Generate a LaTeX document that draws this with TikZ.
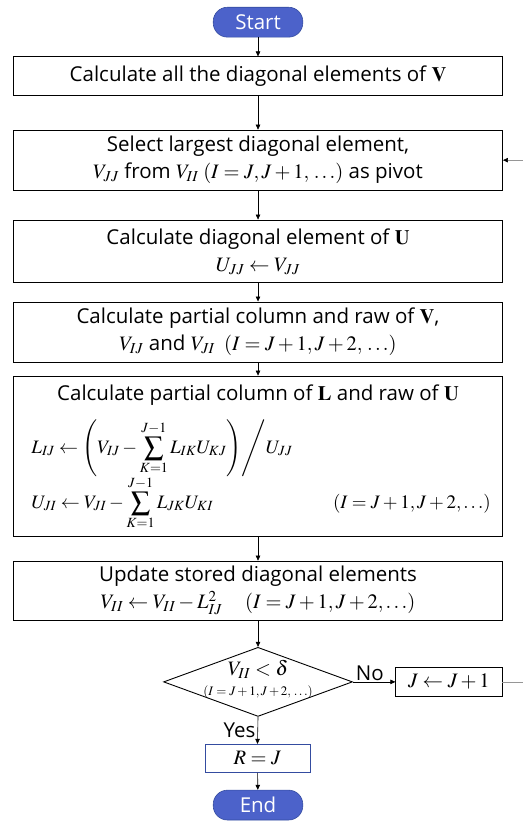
\documentclass[tikz,border=0pt]{standalone}
\usepackage{mathptmx}
\usepackage[no-math]{fontspec}
\setmainfont{Open Sans}
\definecolor{fcblue}{RGB}{76,98,202}
\definecolor{fcedge}{RGB}{52,76,160}
\definecolor{fcgray}{RGB}{150,150,150}
\usetikzlibrary{arrows.meta,positioning,shapes.geometric,calc}
\newcommand{\boxfont}{\fontsize{20.5}{27}\selectfont}
\newcommand{\eqfont}{\fontsize{19}{24}\selectfont}
\tikzset{
  terminal/.style={rectangle, rounded corners=0.5cm, fill=fcblue, draw=fcedge, line width=0.6pt,
    minimum width=3.15cm, minimum height=1.05cm, inner sep=0pt, text=white, font=\boxfont},
  procbox/.style={rectangle, draw=black, line width=0.9pt, minimum width=17.19cm,
    align=center, font=\boxfont},
  smallbox/.style={rectangle, draw=black, line width=0.9pt, minimum height=1.0cm, font=\boxfont},
  decision/.style={diamond, draw=black, line width=0.9pt, minimum width=6.64cm,
    minimum height=2.43cm, inner sep=0pt},
  flow/.style={-{Triangle[length=5pt,width=4.5pt]}, line width=0.6pt}
}
\begin{document}
\begin{tikzpicture}
  \useasboundingbox (0,0) rectangle (18.38,28.86);
  \clip (0,0) rectangle (18.38,28.86);

  % Start and the main column of steps
  \node[terminal] (start) at (9.07,28.08) {Start};
  \node[procbox, minimum height=1.34cm] (calcV) at (9.07,26.19)
    {Calculate all the diagonal elements of $\mathbf{V}$};
  \node[procbox, minimum height=2.11cm] (pivot) at (9.07,23.23)
    {Select largest diagonal element,\\ $V_{JJ}$ from $V_{II}\;(I=J, J+1,\,\ldots)$ as pivot};
  \node[procbox, minimum height=2.21cm] (diagU) at (9.07,20.02)
    {Calculate diagonal element of $\mathbf{U}$\\ $U_{JJ}\leftarrow V_{JJ}$};
  \node[procbox, minimum height=2.11cm] (partV) at (9.07,17.19)
    {Calculate partial column and raw of $\mathbf{V}$,\\ $V_{IJ}$ and $V_{JI}\;\;(I=J+1, J+2,\,\ldots)$};

  % L and U step
  \node[procbox, minimum height=5.62cm] (calcLU) at (9.07,12.83) {};
  \node[font=\boxfont, inner sep=0pt] (titleLU) at (9.07,14.97)
    {Calculate partial column of $\mathbf{L}$ and raw of $\mathbf{U}$};
  \node[anchor=west, font=\eqfont, inner sep=0pt] (eqL) at (1.1,13.1)
    {$\displaystyle L_{IJ}\leftarrow\left(V_{IJ}-\sum_{K=1}^{J-1}L_{IK}U_{KJ}\right)\!\Bigg/U_{JJ}$};
  \node[anchor=base west, font=\eqfont, inner sep=0pt] (eqU) at (1.1,11.0)
    {$\displaystyle U_{JI}\leftarrow V_{JI}-\sum_{K=1}^{J-1}L_{JK}U_{KI}$};
  \node[anchor=base west, font=\eqfont, inner sep=0pt] (eqRange) at (11.7,11.0)
    {$\left(I=J+1,J+2,\ldots\right)$};

  \node[procbox, minimum height=2.07cm] (update) at (9.07,8.10)
    {Update stored diagonal elements\\ $V_{II}\leftarrow V_{II}-L_{IJ}^2\quad\left(I=J+1,J+2,\ldots\right)$};

  % Decision
  \node[decision] (check) at (9.07,4.89) {};
  \node[align=center, font=\boxfont] (checktext) at (9.07,4.98)
    {$V_{II}<\delta$\\[-7pt]{\fontsize{13}{14}\selectfont$(I=J+1, J+2,\,\ldots)$}};
  \node[smallbox, minimum width=3.73cm] (stepJ) at (15.78,4.89) {$J\leftarrow J+1$};
  \node[smallbox, draw=fcedge, line width=0.6pt, minimum width=3.69cm] (result) at (9.05,2.20) {$R=J$};
  \node[terminal] (finish) at (9.07,0.56) {End};

  % Connectors
  \draw[flow] (start) -- (calcV);
  \draw[flow] (calcV) -- (pivot);
  \draw[flow] (pivot) -- (diagU);
  \draw[flow] (diagU) -- (partV);
  \draw[flow] (partV) -- (calcLU);
  \draw[flow] (calcLU) -- (update);
  \draw[flow] (update) -- (check);
  \draw[flow] (check.east) -- node[above, font=\boxfont, inner sep=1pt, pos=0.4] (nolabel) {No} (stepJ.west);
  \draw[flow] (check.south) -- node[left, font=\boxfont, inner sep=2pt] (yeslabel) {Yes} (result.north);
  \draw[flow] (result) -- (finish);

  % Loop back to the pivot step
  \coordinate (loopB) at (18.6,4.89);
  \coordinate (loopT) at (18.6,23.23);
  \draw[fcgray, line width=0.6pt, -{Triangle[length=5pt,width=4.5pt,color=black]}]
    (stepJ.east) -- (loopB) -- (loopT) -- (pivot.east);
\end{tikzpicture}
\end{document}
